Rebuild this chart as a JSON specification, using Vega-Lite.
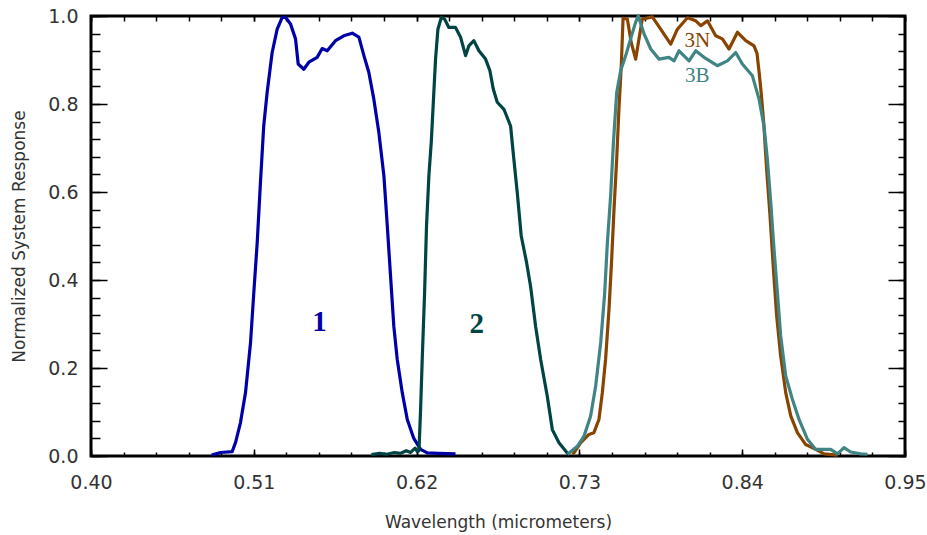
{
  "$schema": "https://vega.github.io/schema/vega-lite/v6.json",
  "width": 814,
  "height": 440,
  "autosize": {"type": "none"},
  "padding": {"left": 91, "top": 16, "right": 22, "bottom": 79},
  "background": "white",
  "config": {"view": {"stroke": "black", "strokeWidth": 3}, "axis": {"grid": false}},
  "datasets": {
    "curves": [
      {"band": "1", "w": 0.4815, "r": 0.002},
      {"band": "1", "w": 0.4875, "r": 0.008},
      {"band": "1", "w": 0.4954, "r": 0.010},
      {"band": "1", "w": 0.4976, "r": 0.030},
      {"band": "1", "w": 0.5010, "r": 0.076},
      {"band": "1", "w": 0.5044, "r": 0.144},
      {"band": "1", "w": 0.5078, "r": 0.258},
      {"band": "1", "w": 0.5100, "r": 0.371},
      {"band": "1", "w": 0.5123, "r": 0.485},
      {"band": "1", "w": 0.5145, "r": 0.622},
      {"band": "1", "w": 0.5167, "r": 0.750},
      {"band": "1", "w": 0.5190, "r": 0.826},
      {"band": "1", "w": 0.5224, "r": 0.917},
      {"band": "1", "w": 0.5258, "r": 0.970},
      {"band": "1", "w": 0.5292, "r": 0.997},
      {"band": "1", "w": 0.5314, "r": 0.997},
      {"band": "1", "w": 0.5348, "r": 0.982},
      {"band": "1", "w": 0.5382, "r": 0.948},
      {"band": "1", "w": 0.5400, "r": 0.891},
      {"band": "1", "w": 0.5438, "r": 0.879},
      {"band": "1", "w": 0.5472, "r": 0.895},
      {"band": "1", "w": 0.5528, "r": 0.906},
      {"band": "1", "w": 0.5562, "r": 0.926},
      {"band": "1", "w": 0.5596, "r": 0.921},
      {"band": "1", "w": 0.5652, "r": 0.944},
      {"band": "1", "w": 0.5708, "r": 0.955},
      {"band": "1", "w": 0.5765, "r": 0.961},
      {"band": "1", "w": 0.5810, "r": 0.952},
      {"band": "1", "w": 0.5844, "r": 0.910},
      {"band": "1", "w": 0.5877, "r": 0.872},
      {"band": "1", "w": 0.5911, "r": 0.811},
      {"band": "1", "w": 0.5945, "r": 0.735},
      {"band": "1", "w": 0.5979, "r": 0.637},
      {"band": "1", "w": 0.6002, "r": 0.523},
      {"band": "1", "w": 0.6024, "r": 0.409},
      {"band": "1", "w": 0.6046, "r": 0.295},
      {"band": "1", "w": 0.6069, "r": 0.220},
      {"band": "1", "w": 0.6103, "r": 0.144},
      {"band": "1", "w": 0.6137, "r": 0.083},
      {"band": "1", "w": 0.6181, "r": 0.040},
      {"band": "1", "w": 0.6227, "r": 0.015},
      {"band": "1", "w": 0.6272, "r": 0.007},
      {"band": "1", "w": 0.6350, "r": 0.006},
      {"band": "1", "w": 0.6463, "r": 0.005},

      {"band": "2", "w": 0.5895, "r": 0.003},
      {"band": "2", "w": 0.5950, "r": 0.006},
      {"band": "2", "w": 0.6000, "r": 0.004},
      {"band": "2", "w": 0.6050, "r": 0.008},
      {"band": "2", "w": 0.6090, "r": 0.006},
      {"band": "2", "w": 0.6130, "r": 0.012},
      {"band": "2", "w": 0.6160, "r": 0.008},
      {"band": "2", "w": 0.6190, "r": 0.018},
      {"band": "2", "w": 0.6205, "r": 0.010},
      {"band": "2", "w": 0.6216, "r": 0.012},
      {"band": "2", "w": 0.6227, "r": 0.106},
      {"band": "2", "w": 0.6238, "r": 0.220},
      {"band": "2", "w": 0.6254, "r": 0.371},
      {"band": "2", "w": 0.6267, "r": 0.523},
      {"band": "2", "w": 0.6283, "r": 0.637},
      {"band": "2", "w": 0.6299, "r": 0.713},
      {"band": "2", "w": 0.6313, "r": 0.804},
      {"band": "2", "w": 0.6328, "r": 0.902},
      {"band": "2", "w": 0.6344, "r": 0.970},
      {"band": "2", "w": 0.6367, "r": 0.997},
      {"band": "2", "w": 0.6389, "r": 0.993},
      {"band": "2", "w": 0.6418, "r": 0.974},
      {"band": "2", "w": 0.6463, "r": 0.974},
      {"band": "2", "w": 0.6497, "r": 0.952},
      {"band": "2", "w": 0.6531, "r": 0.910},
      {"band": "2", "w": 0.6553, "r": 0.932},
      {"band": "2", "w": 0.6587, "r": 0.944},
      {"band": "2", "w": 0.6621, "r": 0.921},
      {"band": "2", "w": 0.6666, "r": 0.902},
      {"band": "2", "w": 0.6695, "r": 0.876},
      {"band": "2", "w": 0.6718, "r": 0.834},
      {"band": "2", "w": 0.6745, "r": 0.804},
      {"band": "2", "w": 0.6790, "r": 0.788},
      {"band": "2", "w": 0.6835, "r": 0.750},
      {"band": "2", "w": 0.6857, "r": 0.675},
      {"band": "2", "w": 0.6880, "r": 0.599},
      {"band": "2", "w": 0.6907, "r": 0.500},
      {"band": "2", "w": 0.6943, "r": 0.440},
      {"band": "2", "w": 0.6970, "r": 0.386},
      {"band": "2", "w": 0.7004, "r": 0.295},
      {"band": "2", "w": 0.7038, "r": 0.220},
      {"band": "2", "w": 0.7083, "r": 0.136},
      {"band": "2", "w": 0.7117, "r": 0.060},
      {"band": "2", "w": 0.7162, "r": 0.030},
      {"band": "2", "w": 0.7218, "r": 0.007},
      {"band": "2", "w": 0.7235, "r": 0.004},

      {"band": "3N", "w": 0.7255, "r": 0.003},
      {"band": "3N", "w": 0.7308, "r": 0.030},
      {"band": "3N", "w": 0.7365, "r": 0.049},
      {"band": "3N", "w": 0.7398, "r": 0.053},
      {"band": "3N", "w": 0.7432, "r": 0.083},
      {"band": "3N", "w": 0.7455, "r": 0.144},
      {"band": "3N", "w": 0.7477, "r": 0.220},
      {"band": "3N", "w": 0.7500, "r": 0.333},
      {"band": "3N", "w": 0.7518, "r": 0.447},
      {"band": "3N", "w": 0.7534, "r": 0.561},
      {"band": "3N", "w": 0.7552, "r": 0.675},
      {"band": "3N", "w": 0.7567, "r": 0.788},
      {"band": "3N", "w": 0.7583, "r": 0.887},
      {"band": "3N", "w": 0.7595, "r": 0.995},
      {"band": "3N", "w": 0.7624, "r": 0.993},
      {"band": "3N", "w": 0.7650, "r": 0.940},
      {"band": "3N", "w": 0.7680, "r": 0.902},
      {"band": "3N", "w": 0.7725, "r": 0.993},
      {"band": "3N", "w": 0.7793, "r": 0.998},
      {"band": "3N", "w": 0.7849, "r": 0.970},
      {"band": "3N", "w": 0.7917, "r": 0.936},
      {"band": "3N", "w": 0.7962, "r": 0.970},
      {"band": "3N", "w": 0.8030, "r": 0.996},
      {"band": "3N", "w": 0.8086, "r": 0.989},
      {"band": "3N", "w": 0.8120, "r": 0.978},
      {"band": "3N", "w": 0.8165, "r": 0.989},
      {"band": "3N", "w": 0.8221, "r": 0.955},
      {"band": "3N", "w": 0.8266, "r": 0.948},
      {"band": "3N", "w": 0.8311, "r": 0.925},
      {"band": "3N", "w": 0.8368, "r": 0.963},
      {"band": "3N", "w": 0.8424, "r": 0.944},
      {"band": "3N", "w": 0.8480, "r": 0.932},
      {"band": "3N", "w": 0.8500, "r": 0.915},
      {"band": "3N", "w": 0.8515, "r": 0.870},
      {"band": "3N", "w": 0.8530, "r": 0.819},
      {"band": "3N", "w": 0.8547, "r": 0.750},
      {"band": "3N", "w": 0.8565, "r": 0.652},
      {"band": "3N", "w": 0.8588, "r": 0.546},
      {"band": "3N", "w": 0.8611, "r": 0.424},
      {"band": "3N", "w": 0.8633, "r": 0.318},
      {"band": "3N", "w": 0.8660, "r": 0.227},
      {"band": "3N", "w": 0.8694, "r": 0.144},
      {"band": "3N", "w": 0.8728, "r": 0.091},
      {"band": "3N", "w": 0.8773, "r": 0.053},
      {"band": "3N", "w": 0.8829, "r": 0.026},
      {"band": "3N", "w": 0.8897, "r": 0.015},
      {"band": "3N", "w": 0.8953, "r": 0.005},
      {"band": "3N", "w": 0.9044, "r": 0.002},

      {"band": "3B", "w": 0.7220, "r": 0.004},
      {"band": "3B", "w": 0.7286, "r": 0.022},
      {"band": "3B", "w": 0.7331, "r": 0.045},
      {"band": "3B", "w": 0.7376, "r": 0.091},
      {"band": "3B", "w": 0.7410, "r": 0.159},
      {"band": "3B", "w": 0.7444, "r": 0.258},
      {"band": "3B", "w": 0.7471, "r": 0.371},
      {"band": "3B", "w": 0.7489, "r": 0.485},
      {"band": "3B", "w": 0.7511, "r": 0.591},
      {"band": "3B", "w": 0.7530, "r": 0.713},
      {"band": "3B", "w": 0.7552, "r": 0.826},
      {"band": "3B", "w": 0.7579, "r": 0.876},
      {"band": "3B", "w": 0.7613, "r": 0.910},
      {"band": "3B", "w": 0.7646, "r": 0.948},
      {"band": "3B", "w": 0.7680, "r": 0.986},
      {"band": "3B", "w": 0.7698, "r": 1.000},
      {"band": "3B", "w": 0.7736, "r": 0.960},
      {"band": "3B", "w": 0.7782, "r": 0.925},
      {"band": "3B", "w": 0.7838, "r": 0.902},
      {"band": "3B", "w": 0.7905, "r": 0.906},
      {"band": "3B", "w": 0.7940, "r": 0.898},
      {"band": "3B", "w": 0.7973, "r": 0.921},
      {"band": "3B", "w": 0.8041, "r": 0.898},
      {"band": "3B", "w": 0.8086, "r": 0.921},
      {"band": "3B", "w": 0.8142, "r": 0.906},
      {"band": "3B", "w": 0.8232, "r": 0.887},
      {"band": "3B", "w": 0.8300, "r": 0.898},
      {"band": "3B", "w": 0.8356, "r": 0.917},
      {"band": "3B", "w": 0.8401, "r": 0.891},
      {"band": "3B", "w": 0.8469, "r": 0.864},
      {"band": "3B", "w": 0.8514, "r": 0.811},
      {"band": "3B", "w": 0.8547, "r": 0.750},
      {"band": "3B", "w": 0.8570, "r": 0.675},
      {"band": "3B", "w": 0.8593, "r": 0.576},
      {"band": "3B", "w": 0.8615, "r": 0.470},
      {"band": "3B", "w": 0.8638, "r": 0.371},
      {"band": "3B", "w": 0.8660, "r": 0.273},
      {"band": "3B", "w": 0.8694, "r": 0.182},
      {"band": "3B", "w": 0.8739, "r": 0.129},
      {"band": "3B", "w": 0.8784, "r": 0.083},
      {"band": "3B", "w": 0.8841, "r": 0.038},
      {"band": "3B", "w": 0.8897, "r": 0.015},
      {"band": "3B", "w": 0.8998, "r": 0.015},
      {"band": "3B", "w": 0.9044, "r": 0.005},
      {"band": "3B", "w": 0.9088, "r": 0.019},
      {"band": "3B", "w": 0.9133, "r": 0.009},
      {"band": "3B", "w": 0.9201, "r": 0.005},
      {"band": "3B", "w": 0.9246, "r": 0.004}
    ],
    "bigLabels": [
      {"band": "1", "w": 0.5544, "r": 0.304},
      {"band": "2", "w": 0.6606, "r": 0.299}
    ],
    "smallLabels": [
      {"band": "3N", "w": 0.8097, "r": 0.944},
      {"band": "3B", "w": 0.8097, "r": 0.864}
    ]
  },
  "resolve": {"axis": {"x": "independent", "y": "independent"}},
  "layer": [
    {
      "data": {"name": "curves"},
      "transform": [{"filter": "datum.band === '1' || datum.band === '2'"}],
      "mark": {"type": "line", "strokeWidth": 3.2, "strokeJoin": "round"},
      "encoding": {
        "x": {
          "field": "w", "type": "quantitative",
          "scale": {"domain": [0.4, 0.95], "nice": false, "zero": false},
          "axis": {
            "orient": "bottom", "offset": -7, "values": [0.4, 0.51, 0.62, 0.73, 0.84, 0.95], "format": ".2f",
            "ticks": true, "tickSize": 7, "tickColor": "black", "tickWidth": 1.5, "domain": false,
            "labelPadding": 17, "labelFlush": false, "labelOverlap": false, "labelBound": false,
            "labelFont": "DejaVu Sans", "labelFontSize": 19, "labelColor": "#333",
            "title": "Wavelength (micrometers)", "titleFont": "DejaVu Sans", "titleFontSize": 17,
            "titleFontWeight": "normal", "titleColor": "#333", "titlePadding": 22
          }
        },
        "y": {
          "field": "r", "type": "quantitative",
          "scale": {"domain": [0, 1], "nice": false, "zero": false},
          "axis": {
            "orient": "left", "offset": -16, "values": [0, 0.2, 0.4, 0.6, 0.8, 1.0], "format": ".1f",
            "ticks": true, "tickSize": 16, "tickColor": "black", "tickWidth": 1.5, "domain": false,
            "labelPadding": 13, "labelFlush": false, "labelOverlap": false, "labelBound": false,
            "labelFont": "DejaVu Sans", "labelFontSize": 19, "labelColor": "#333",
            "title": "Normalized System Response", "titleFont": "DejaVu Sans", "titleFontSize": 17,
            "titleFontWeight": "normal", "titleColor": "#333", "titlePadding": 19
          }
        },
        "color": {
          "field": "band", "type": "nominal",
          "scale": {"domain": ["1", "2", "3N", "3B"], "range": ["#0000A8", "#004444", "#884400", "#408484"]},
          "legend": null
        }
      }
    },
    {
      "data": {"name": "curves"},
      "transform": [{"filter": "datum.band === '3N' || datum.band === '3B'"}],
      "mark": {"type": "line", "strokeWidth": 3.2, "strokeJoin": "round"},
      "encoding": {
        "x": {
          "field": "w", "type": "quantitative",
          "axis": {
            "orient": "bottom", "offset": -4, "labels": false, "domain": false, "title": null,
            "values": [0.4, 0.422, 0.444, 0.466, 0.488, 0.51, 0.532, 0.554, 0.576, 0.598, 0.62, 0.642, 0.664, 0.686, 0.708, 0.73, 0.752, 0.774, 0.796, 0.818, 0.84, 0.862, 0.884, 0.906, 0.928, 0.95],
            "tickColor": "black", "tickWidth": 1.5, "tickSize": 4
          }
        },
        "y": {
          "field": "r", "type": "quantitative",
          "axis": {
            "orient": "left", "offset": -9, "labels": false, "domain": false, "title": null,
            "values": [0, 0.04, 0.08, 0.12, 0.16, 0.2, 0.24, 0.28, 0.32, 0.36, 0.4, 0.44, 0.48, 0.52, 0.56, 0.6, 0.64, 0.68, 0.72, 0.76, 0.8, 0.84, 0.88, 0.92, 0.96, 1],
            "tickColor": "black", "tickWidth": 1.5, "tickSize": 9
          }
        },
        "color": {"field": "band", "type": "nominal", "legend": null}
      }
    },
    {
      "data": {"name": "bigLabels"},
      "mark": {"type": "text", "font": "Liberation Serif", "fontWeight": "bold", "fontSize": 29, "align": "center", "baseline": "middle"},
      "encoding": {
        "x": {
          "field": "w", "type": "quantitative",
          "axis": {
            "orient": "top", "offset": -5, "labels": false, "domain": false, "title": null,
            "values": [0.4, 0.422, 0.444, 0.466, 0.488, 0.51, 0.532, 0.554, 0.576, 0.598, 0.62, 0.642, 0.664, 0.686, 0.708, 0.73, 0.752, 0.774, 0.796, 0.818, 0.84, 0.862, 0.884, 0.906, 0.928, 0.95],
            "tickColor": "black", "tickWidth": 1.5, "tickSize": 5
          }
        },
        "y": {
          "field": "r", "type": "quantitative",
          "axis": {
            "orient": "right", "offset": -17, "labels": false, "domain": false, "title": null,
            "values": [0, 0.2, 0.4, 0.6, 0.8, 1],
            "tickColor": "black", "tickWidth": 1.5, "tickSize": 17
          }
        },
        "text": {"field": "band"},
        "color": {"field": "band", "type": "nominal", "legend": null}
      }
    },
    {
      "data": {"name": "smallLabels"},
      "mark": {"type": "text", "font": "Liberation Serif", "fontWeight": "normal", "fontSize": 21, "align": "center", "baseline": "middle"},
      "encoding": {
        "x": {
          "field": "w", "type": "quantitative",
          "axis": {
            "orient": "top", "offset": -5, "labels": false, "domain": false, "title": null,
            "values": [0.4, 0.51, 0.62, 0.73, 0.84, 0.95],
            "tickColor": "black", "tickWidth": 1.5, "tickSize": 5
          }
        },
        "y": {
          "field": "r", "type": "quantitative",
          "axis": {
            "orient": "right", "offset": -7, "labels": false, "domain": false, "title": null,
            "values": [0, 0.04, 0.08, 0.12, 0.16, 0.2, 0.24, 0.28, 0.32, 0.36, 0.4, 0.44, 0.48, 0.52, 0.56, 0.6, 0.64, 0.68, 0.72, 0.76, 0.8, 0.84, 0.88, 0.92, 0.96, 1],
            "tickColor": "black", "tickWidth": 1.5, "tickSize": 7
          }
        },
        "text": {"field": "band"},
        "color": {"field": "band", "type": "nominal", "legend": null}
      }
    }
  ]
}
